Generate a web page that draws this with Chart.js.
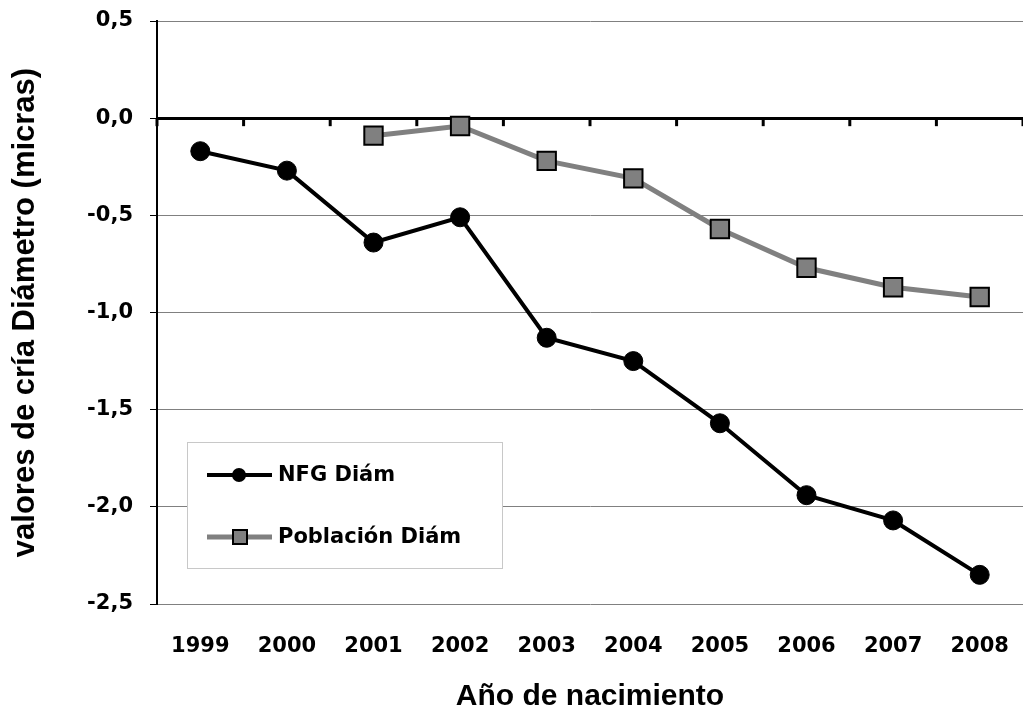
<!DOCTYPE html>
<html>
<head>
<meta charset="utf-8">
<script src="https://cdn.jsdelivr.net/npm/chart.js@4/dist/chart.umd.min.js"></script>
<style>
html,body{margin:0;padding:0;background:#fff;overflow:hidden;}
#wrap{width:1023px;height:715px;overflow:hidden;}
</style>
</head>
<body>
<div id="wrap"><canvas id="c" width="1038" height="715"></canvas></div>
<script>
const categories = ['1999','2000','2001','2002','2003','2004','2005','2006','2007','2008'];
const nfgValues = [-0.17,-0.27,-0.64,-0.51,-1.13,-1.25,-1.57,-1.94,-2.07,-2.35];
const poblacionValues = [null,null,-0.09,-0.04,-0.22,-0.31,-0.57,-0.77,-0.87,-0.92];
const seriesNames = ['NFG Diám','Población Diám'];
const yTitle = 'valores de cría Diámetro (micras)';
const xTitle = 'Año de nacimiento';

const TICKFONT = 'DejaVu Sans, sans-serif';
const TITLEFONT = 'Liberation Sans, Arial, sans-serif';

const zeroTicks = {
  id:'zeroTicks',
  afterDatasetsDraw(chart){
    const x = chart.scales.x, y = chart.scales.y, ctx = chart.ctx;
    const y0 = y.getPixelForValue(0);
    ctx.save();
    ctx.strokeStyle = '#000'; ctx.lineWidth = 3;
    for (let i = 0; i <= categories.length; i++) {
      const px = x.getPixelForValue(i - 0.5);
      ctx.beginPath(); ctx.moveTo(px, y0); ctx.lineTo(px, y0 + 8); ctx.stroke();
    }
    ctx.restore();
  }
};

const boxLegend = {
  id:'boxLegend',
  afterDraw(chart){
    const ctx = chart.ctx;
    const bx = 187, by = 442, bw = 315, bh = 126;
    ctx.save();
    ctx.fillStyle = '#fff';
    ctx.fillRect(bx, by, bw, bh);
    ctx.strokeStyle = '#c8c8c8'; ctx.lineWidth = 1;
    ctx.strokeRect(bx + 0.5, by + 0.5, bw, bh);
    chart.data.datasets.forEach((ds, i) => {
      const cy = by + 33 + i * 62;
      ctx.strokeStyle = ds.borderColor; ctx.lineWidth = ds.borderWidth;
      ctx.beginPath(); ctx.moveTo(207, cy); ctx.lineTo(272, cy); ctx.stroke();
      ctx.fillStyle = ds.pointBackgroundColor;
      ctx.strokeStyle = ds.pointBorderColor; ctx.lineWidth = ds.pointBorderWidth;
      if (ds.pointStyle === 'rect') {
        ctx.fillRect(233, cy - 7, 14, 14); ctx.strokeRect(233, cy - 7, 14, 14);
      } else {
        ctx.beginPath(); ctx.arc(239, cy, 7, 0, Math.PI * 2); ctx.fill();
      }
      ctx.fillStyle = '#000';
      ctx.font = 'bold 21px ' + TICKFONT;
      ctx.textBaseline = 'middle';
      ctx.fillText(ds.label, 278, cy + 1);
    });
    ctx.restore();
  }
};

new Chart(document.getElementById('c'), {
  type: 'line',
  data: {
    labels: categories,
    datasets: [
      {
        label: seriesNames[0], data: nfgValues,
        borderColor: '#000', borderWidth: 4,
        pointStyle: 'circle', pointRadius: 9.5, pointHoverRadius: 9.5,
        pointBackgroundColor: '#000', pointBorderColor: '#000', pointBorderWidth: 1,
        tension: 0
      },
      {
        label: seriesNames[1], data: poblacionValues,
        borderColor: '#808080', borderWidth: 5,
        pointStyle: 'rect', pointRadius: 13, pointHoverRadius: 13,
        pointBackgroundColor: '#808080', pointBorderColor: '#000', pointBorderWidth: 2,
        tension: 0
      }
    ]
  },
  options: {
    responsive: false,
    animation: false,
    events: [],
    layout: { padding: { top: 21, right: 0, left: 0, bottom: 0 } },
    plugins: { legend: { display: false }, tooltip: { enabled: false } },
    scales: {
      x: {
        offset: true,
        grid: { display: false, offset: true },
        border: { display: false },
        ticks: { color: '#000', font: { family: TICKFONT, size: 21, weight: 'bold' }, padding: 22, maxRotation: 0 },
        title: { display: true, text: xTitle, color: '#000', font: { family: TITLEFONT, size: 30, weight: 'bold' }, padding: { top: 6, bottom: 0 } },
        afterFit(s){ s.height = 111; s.paddingLeft = 0; s.paddingRight = 0; }
      },
      y: {
        min: -2.5, max: 0.5,
        grid: {
          color: ctx => ctx.tick && ctx.tick.value === 0 ? '#000' : '#808080',
          lineWidth: ctx => ctx.tick && ctx.tick.value === 0 ? 3 : 1,
          tickColor: '#000', tickLength: 7, tickWidth: 1
        },
        border: { display: true, color: '#000', width: 2 },
        ticks: {
          stepSize: 0.5, color: '#000', padding: 17,
          font: { family: TICKFONT, size: 21, weight: 'bold' },
          callback: v => Number(v).toFixed(1).replace('.', ',')
        },
        title: { display: true, text: yTitle, color: '#000', font: { family: TITLEFONT, size: 31, weight: 'bold' }, padding: { top: 7, bottom: 0 } },
        afterFit(s){ s.width = 157; s.paddingTop = 0; s.paddingBottom = 0; }
      }
    }
  },
  plugins: [zeroTicks, boxLegend]
});
</script>
</body>
</html>
